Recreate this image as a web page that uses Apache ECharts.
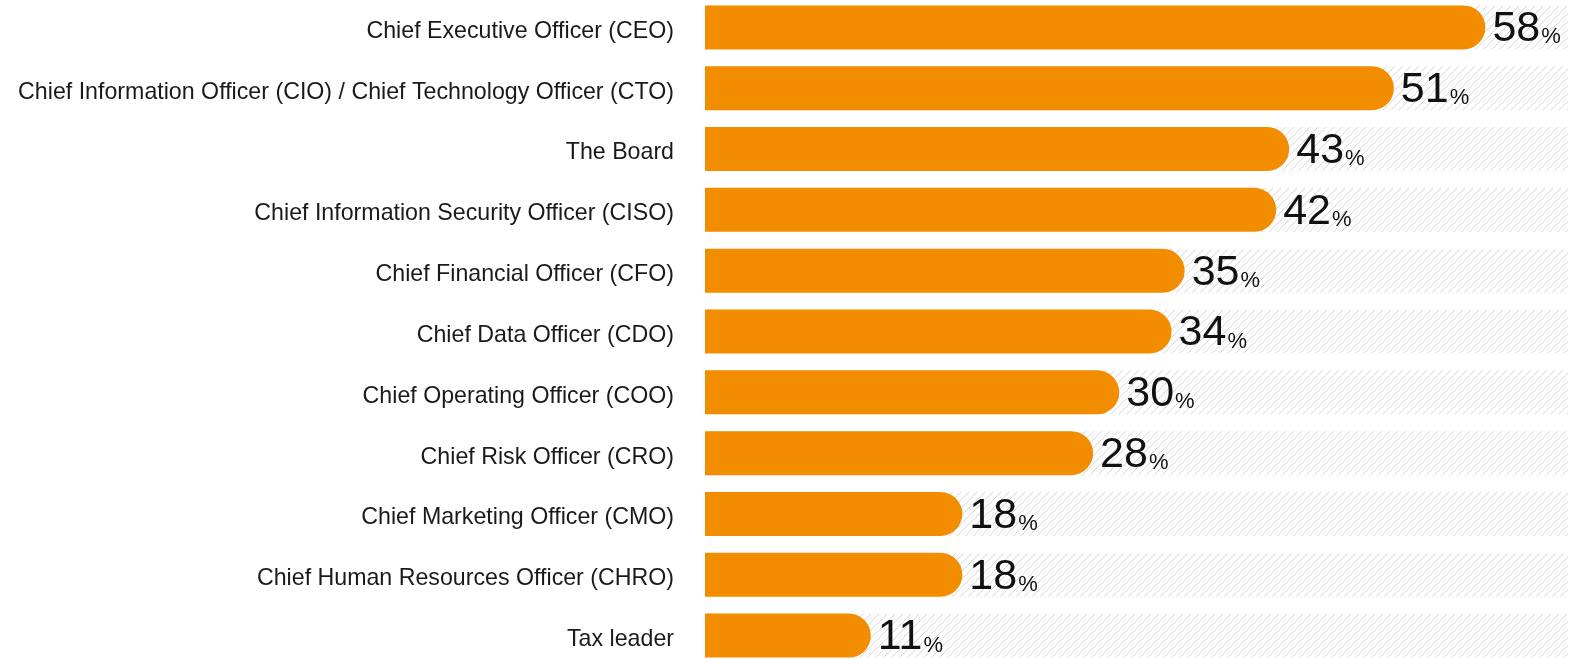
<!DOCTYPE html>
<html>
<head>
<meta charset="utf-8">
<title>Chart</title>
<script src="https://cdn.jsdelivr.net/npm/echarts@6/dist/echarts.min.js"></script>
<style>
  html, body { margin: 0; padding: 0; background: #fff; overflow: hidden; }
  /* taller than the window so the first and last rows sit as close to the edges as in the original */
  #chart { position: absolute; left: 0; top: -3px; width: 1584px; height: 669px; }
</style>
</head>
<body>
<div id="chart"></div>
<script>
const categories = [
  'Chief Executive Officer (CEO)',
  'Chief Information Officer (CIO) / Chief Technology Officer (CTO)',
  'The Board',
  'Chief Information Security Officer (CISO)',
  'Chief Financial Officer (CFO)',
  'Chief Data Officer (CDO)',
  'Chief Operating Officer (COO)',
  'Chief Risk Officer (CRO)',
  'Chief Marketing Officer (CMO)',
  'Chief Human Resources Officer (CHRO)',
  'Tax leader'
]
const values = [58, 51, 43, 42, 35, 34, 30, 28, 18, 18, 11]
const axisMax = 66

const FONT = '"Liberation Sans", Arial, Helvetica, sans-serif'
const ORANGE = '#f28d00'
const BAR_H = 44
const RADIUS = 22
const NUM_SIZE = 43
const PCT_SIZE = 22

// diagonal hatch for the track behind each bar
const makeHatch = () => {
  const c = document.createElement('canvas')
  c.width = 8
  c.height = 8
  const ctx = c.getContext('2d')
  ctx.strokeStyle = '#d6d6d6'
  ctx.lineWidth = 1
  ctx.beginPath()
  ctx.moveTo(0, 8); ctx.lineTo(8, 0)
  ctx.moveTo(-1, 1); ctx.lineTo(1, -1)
  ctx.moveTo(7, 9); ctx.lineTo(9, 7)
  ctx.stroke()
  return c
}
const hatch = makeHatch()

const measureCtx = document.createElement('canvas').getContext('2d')
const numWidth = (txt) => {
  measureCtx.font = NUM_SIZE + 'px ' + FONT
  return measureCtx.measureText(txt).width
}

const chart = echarts.init(document.getElementById('chart'))

const renderItem = (params, api) => {
  const cat = api.value(1)
  const v = api.value(0)
  const start = api.coord([0, cat])
  const end = api.coord([v, cat])
  const trackEnd = api.coord([axisMax, cat])
  const y = start[1] - BAR_H / 2
  const barW = end[0] - start[0] + RADIUS
  const numX = start[0] + barW + 7
  return {
    type: 'group',
    children: [
      {
        type: 'rect',
        shape: { x: start[0], y: y, width: trackEnd[0] - start[0], height: BAR_H },
        style: { fill: { image: hatch, repeat: 'repeat' } },
        silent: true
      },
      {
        type: 'rect',
        shape: { x: start[0], y: y, width: barW, height: BAR_H, r: [0, RADIUS, RADIUS, 0] },
        style: { fill: ORANGE }
      },
      {
        type: 'text',
        x: numX,
        y: start[1] + 2,
        style: {
          text: String(v),
          fontSize: NUM_SIZE,
          fontFamily: FONT,
          fill: '#111',
          align: 'left',
          verticalAlign: 'middle'
        }
      },
      {
        type: 'text',
        x: numX + numWidth(String(v)) + 1,
        y: start[1] + 10,
        style: {
          text: '%',
          fontSize: PCT_SIZE,
          fontFamily: FONT,
          fill: '#111',
          align: 'left',
          verticalAlign: 'middle'
        }
      }
    ]
  }
}

chart.setOption({
  animation: false,
  grid: { left: 705, right: 16, top: 0, bottom: 0 },
  xAxis: { type: 'value', min: 0, max: axisMax, show: false },
  yAxis: {
    type: 'category',
    inverse: true,
    data: categories,
    axisLine: { show: false },
    axisTick: { show: false },
    splitLine: { show: false },
    axisLabel: {
      margin: 31,
      formatter: (name) => '{l|' + name + '}',
      rich: {
        l: { fontSize: 23.2, fontFamily: FONT, color: '#1a1a1a', padding: [8, 0, 0, 0] }
      }
    }
  },
  series: [
    {
      type: 'custom',
      renderItem: renderItem,
      encode: { x: 0, y: 1 },
      data: values.map((v, i) => [v, i])
    }
  ]
})

window.addEventListener('resize', () => chart.resize())
</script>
</body>
</html>
